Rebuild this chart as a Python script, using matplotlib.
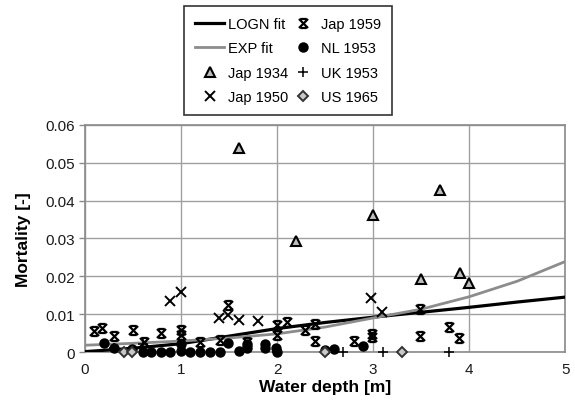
import numpy as np
import matplotlib
matplotlib.use("Agg")
import matplotlib.pyplot as plt
from matplotlib.path import Path

plt.rcParams['font.family'] = ['Liberation Sans', 'DejaVu Sans']

# fitted curves
fit_x = [0, 0.5, 1, 1.5, 2, 2.5, 3, 3.5, 4, 4.5, 5]
logn_y = [0.0001, 0.0010, 0.0022, 0.0042, 0.0062, 0.0078, 0.0092, 0.0105, 0.0118, 0.0132, 0.0145]
exp_y = [0.0018, 0.0023, 0.0029, 0.0037, 0.0048, 0.0066, 0.0090, 0.0113, 0.0146, 0.0187, 0.0239]

# observations
jap1934_x = [1.6, 2.2, 3.0, 3.7, 3.5, 3.9, 4.0]
jap1934_y = [0.0540, 0.0294, 0.0362, 0.0428, 0.0193, 0.0210, 0.0183]

jap1950_x = [0.885, 1.0, 1.39, 1.49, 1.6, 1.8, 2.98, 3.09]
jap1950_y = [0.0136, 0.0158, 0.0089, 0.0099, 0.0085, 0.0081, 0.0142, 0.0107]

jap1959_x = [0.09, 0.18, 0.3, 0.5, 0.61, 0.79, 1.0, 1.0, 1.2, 1.4, 1.49, 1.69,
             2.0, 2.0, 2.1, 2.29, 2.39, 2.39, 2.8, 2.99, 2.99, 3.49, 3.49, 3.79, 3.89]
jap1959_y = [0.0056, 0.0063, 0.0043, 0.0058, 0.0026, 0.0050, 0.0059, 0.0046, 0.0026, 0.0032,
             0.0125, 0.0026, 0.0071, 0.0046, 0.0078, 0.0059, 0.0074, 0.0028, 0.0030, 0.0048,
             0.0040, 0.0043, 0.0114, 0.0067, 0.0036]

nl1953_x = [0.2, 0.3, 0.49, 0.6, 0.69, 0.79, 0.885, 1.0, 1.0, 1.09, 1.2, 1.3, 1.4, 1.49,
            1.6, 1.69, 1.69, 1.875, 1.875, 1.99, 2.0, 2.5, 2.59, 2.89]
nl1953_y = [0.0024, 0.0010, 0.0008, 0.0001, 0.0001, 0.0001, 0.0001, 0.0002, 0.0020, 0.0001,
            0.0001, 0.0001, 0.0001, 0.0023, 0.0002, 0.0010, 0.0020, 0.0010, 0.0020, 0.0010,
            0.0001, 0.0005, 0.0008, 0.0015]

uk1953_x = [0.3, 0.6, 2.0, 2.69, 3.1, 3.79]
uk1953_y = [0.0010, 0.0020, 0.0000, 0.0000, 0.0000, 0.0000]

us1965_x = [0.4, 0.49, 2.5, 3.3]
us1965_y = [0.0000, 0.0000, 0.0000, 0.0000]


def hourglass_x():
    """
    x marker with short bars on top and bottom
    """
    verts = [(-1, -1), (1, 1), (-1, 1), (1, -1),
             (-0.7, 1), (0.7, 1), (-0.7, -1), (0.7, -1)]
    codes = [Path.MOVETO, Path.LINETO] * 4
    return Path(verts, codes)


def plot_mortality():
    fig = plt.figure(figsize=(5.75, 4.06), dpi=100)
    ax = fig.add_axes([0.148, 0.1305, 0.835, 0.5595])

    ax.plot(fit_x, logn_y, color='black', lw=2.3, label='LOGN fit', zorder=3)
    ax.plot(fit_x, exp_y, color='#8c8c8c', lw=2.0, label='EXP fit', zorder=3)
    # markers sitting on y=0 are drawn whole, like in the source chart
    ax.plot(jap1934_x, jap1934_y, ls='none', marker='^', ms=6.5, mfc='#bdbdbd', mec='black',
            mew=1.5, label='Jap 1934', zorder=4, clip_on=False)
    ax.plot(jap1950_x, jap1950_y, ls='none', marker='x', ms=6.5, mec='black', mew=1.4,
            label='Jap 1950', zorder=4, clip_on=False)
    ax.plot(jap1959_x, jap1959_y, ls='none', marker=hourglass_x(), ms=6.5, mec='black', mew=1.6,
            label='Jap 1959', zorder=4, clip_on=False)
    ax.plot(nl1953_x, nl1953_y, ls='none', marker='o', ms=6.5, mfc='black', mec='black',
            label='NL 1953', zorder=4, clip_on=False)
    ax.plot(uk1953_x, uk1953_y, ls='none', marker='+', ms=6.5, mec='black', mew=1.1,
            label='UK 1953', zorder=4, clip_on=False)
    ax.plot(us1965_x, us1965_y, ls='none', marker='D', ms=5.5, mfc='#c8c8c8', mec='#333333',
            mew=1.4, label='US 1965', zorder=4, clip_on=False)

    ax.set_xlim(0, 5)
    ax.set_ylim(0, 0.06)
    ax.set_xticks(np.arange(0, 6, 1))
    ax.set_yticks(np.arange(0, 0.061, 0.01))
    ax.set_yticklabels(['0', '0.01', '0.02', '0.03', '0.04', '0.05', '0.06'])
    ax.grid(True, color='#a0a0a0', lw=1.0)
    ax.set_axisbelow(True)
    for sp in ax.spines.values():
        sp.set_color('#8a8a8a')
        sp.set_linewidth(1.2)
    ax.tick_params(axis='both', labelsize=11, colors='#8a8a8a', labelcolor='#1a1a1a',
                   length=4, width=1)
    ax.tick_params(axis='x', length=0, pad=7)

    ax.set_xlabel('Water depth [m]', fontsize=12.5, fontweight='bold', labelpad=2)
    ax.set_ylabel('Mortality [-]', fontsize=12.5, fontweight='bold', labelpad=10)

    leg = fig.legend(loc='upper left', bbox_to_anchor=(0.32, 0.983), ncol=2, fontsize=10.5,
                     frameon=True, fancybox=False, edgecolor='black', handlelength=2.0,
                     handletextpad=0.25, columnspacing=0.0, labelspacing=0.72,
                     borderpad=0.75, borderaxespad=0)
    leg.get_frame().set_linewidth(1.2)

    fig.savefig('out.png', dpi=100)


if __name__ == '__main__':
    plot_mortality()
